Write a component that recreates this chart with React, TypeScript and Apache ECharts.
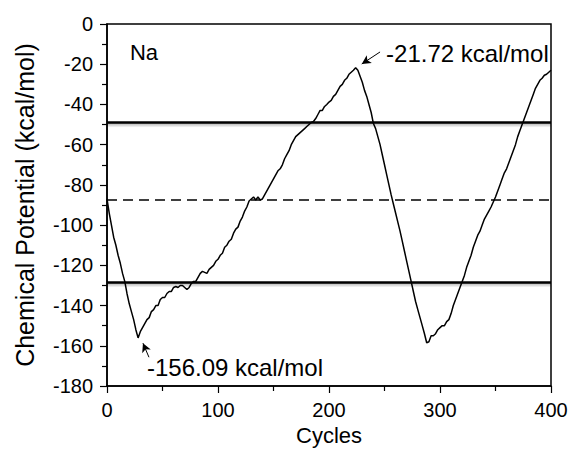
import React, { useEffect, useRef } from "react";
import * as echarts from "echarts";

const cycles = [
  0, 2, 4, 6, 8, 10, 12, 14, 16, 18, 20, 22, 24, 26, 28, 30, 32, 34, 36, 38, 40, 42, 44, 46, 48, 50,
  52, 54, 56, 58, 60, 62, 64, 66, 68, 70, 72, 74, 76, 78, 80, 82, 84, 86, 88, 90, 92, 94, 96, 98, 100,
  102, 104, 106, 108, 110, 112, 114, 116, 118, 120, 122, 124, 126, 128, 130, 132, 134, 136, 138, 140,
  142, 144, 146, 148, 150, 152, 154, 156, 158, 160, 162, 164, 166, 168, 170, 172, 174, 176, 178, 180,
  182, 184, 186, 188, 190, 192, 194, 196, 198, 200, 202, 204, 206, 208, 210, 212, 214, 216, 218, 220,
  222, 224, 226, 228, 230, 232, 234, 236, 238, 240, 242, 244, 246, 248, 250, 252, 254, 256, 258, 260,
  262, 264, 266, 268, 270, 272, 274, 276, 278, 280, 282, 284, 286, 288, 290, 292, 294, 296, 298, 300,
  302, 304, 306, 308, 310, 312, 314, 316, 318, 320, 322, 324, 326, 328, 330, 332, 334, 336, 338, 340,
  342, 344, 346, 348, 350, 352, 354, 356, 358, 360, 362, 364, 366, 368, 370, 372, 374, 376, 378, 380,
  382, 384, 386, 388, 390, 392, 394, 396, 398, 400,
];

const potential = [
  -87, -94, -100, -106, -110, -115, -119, -124, -128, -134, -139, -143, -147, -152, -156.09, -153, -151,
  -149, -147, -146, -143, -142, -140, -140, -137, -136, -136, -134, -133, -133, -131, -130.5, -131, -130,
  -130, -131, -132, -131, -129, -128, -128, -126, -124, -123, -123.5, -124, -122, -121, -120, -118, -117,
  -115, -114, -111, -110, -108, -107, -104, -102, -101, -98, -96, -93, -91, -88, -87, -86, -87.5, -86,
  -87.5, -87, -85, -83, -81, -79, -77, -75, -73, -72, -70, -67, -65, -63, -60, -58, -56, -55, -54, -53,
  -52, -51, -50, -49, -48.5, -47, -45, -43, -43, -41, -40, -38.8, -38, -36, -35, -33, -31, -30, -28, -27,
  -25, -24, -23, -21.72, -23, -26, -29, -33, -36, -40, -44, -49.5, -52, -56, -60, -65, -70, -75, -80, -85,
  -89.5, -94, -98.5, -103, -108, -113, -118, -123, -128, -133, -138, -142, -146, -150, -154, -158.5, -158,
  -155, -155, -154, -152, -151, -150, -150, -148, -147, -144, -140, -137, -134, -131, -128, -125, -121,
  -118, -115, -111, -108, -105, -103, -100, -97, -95, -93, -91, -88.5, -86, -83, -80, -77, -74, -72, -69,
  -66, -63, -60, -56, -53, -50, -47, -44, -41, -38, -35, -32, -30, -28, -27, -25.5, -25, -24, -23,
];

const xTicks = [0, 100, 200, 300, 400];
const yTicks = [-180, -160, -140, -120, -100, -80, -60, -40, -20, 0];

const upperLevel = -49;
const lowerLevel = -128.5;
const midLevel = -87.5;
const shadowDepth = 2.5;

const panelLabel = "Na";
const panelLabelAt = [20.7, -14];
const peakText = "-21.72 kcal/mol";
const peakTextAt = [251.4, -14.9];
const peakArrow = [[246, -13.9], [229.5, -19.9]];
const minText = "-156.09 kcal/mol";
const minTextAt = [36, -170.6];
const minArrow = [[37.8, -165.7], [32.4, -158.7]];

const FONT = "Liberation Sans, Arial, Helvetica, sans-serif";

export default function App() {
  const ref = useRef<HTMLDivElement>(null);

  useEffect(() => {
    if (!ref.current) return;
    const chart = echarts.init(ref.current, null, { renderer: "svg" });
    const data = cycles.map((c, i) => [c, potential[i]]);

    const textPoint = (text: string, at: number[], size: number) => ({
      coord: at,
      symbol: "circle",
      symbolSize: 0,
      label: {
        show: true,
        formatter: text,
        position: "inside",
        align: "left",
        verticalAlign: "middle",
        color: "#000",
        fontSize: size,
        fontFamily: FONT,
      },
    });

    const shadowFill = new echarts.graphic.LinearGradient(0, 0, 0, 1, [
      { offset: 0, color: "rgba(0,0,0,0.35)" },
      { offset: 1, color: "rgba(0,0,0,0)" },
    ]);

    const axisCommon = {
      axisLine: { show: true, onZero: false, lineStyle: { color: "#000", width: 1.5 } },
      axisTick: { show: true, inside: false, length: 7, lineStyle: { color: "#000", width: 1.2 } },
      minorTick: { show: true, splitNumber: 2, length: 5, lineStyle: { color: "#000", width: 1.2 } },
      splitLine: { show: false },
    };

    chart.setOption({
      animation: false,
      backgroundColor: "#fff",
      textStyle: { fontFamily: FONT },
      grid: {
        left: 107,
        right: 17,
        top: 24,
        bottom: 64,
        containLabel: false,
        outerBoundsMode: "none",
        show: true,
        borderColor: "#000",
        borderWidth: 1.5,
        backgroundColor: "transparent",
      },
      xAxis: {
        type: "value",
        min: xTicks[0],
        max: xTicks[xTicks.length - 1],
        interval: 100,
        name: "Cycles",
        nameLocation: "middle",
        nameGap: 38,
        nameTextStyle: { color: "#000", fontSize: 22, fontFamily: FONT },
        ...axisCommon,
        axisLabel: { color: "#000", fontSize: 20, margin: 14, fontFamily: FONT },
      },
      yAxis: {
        type: "value",
        min: yTicks[0],
        max: yTicks[yTicks.length - 1],
        interval: 20,
        name: "Chemical Potential (kcal/mol)",
        nameLocation: "middle",
        nameRotate: 90,
        nameGap: 70,
        nameTextStyle: { color: "#000", fontSize: 25, fontFamily: FONT },
        ...axisCommon,
        axisLabel: { color: "#000", fontSize: 20, margin: 14, fontFamily: FONT },
      },
      series: [
        {
          type: "line",
          data,
          showSymbol: false,
          symbol: "none",
          lineStyle: { color: "#000", width: 1.5 },
          z: 3,
          markArea: {
            silent: true,
            itemStyle: { color: shadowFill },
            data: [
              [{ yAxis: upperLevel }, { yAxis: upperLevel - shadowDepth }],
              [{ yAxis: lowerLevel }, { yAxis: lowerLevel - shadowDepth }],
            ],
          },
          markLine: {
            silent: true,
            symbol: "none",
            label: { show: false },
            data: [
              { yAxis: upperLevel, lineStyle: { color: "#000", width: 2.6, type: "solid" } },
              { yAxis: lowerLevel, lineStyle: { color: "#000", width: 2.6, type: "solid" } },
              { yAxis: midLevel, lineStyle: { color: "#000", width: 1.5, type: [10, 6] } },
            ],
          },
        },
        {
          type: "line",
          data: [],
          markLine: {
            silent: true,
            symbol: ["none", "arrow"],
            symbolSize: [7, 9],
            label: { show: false },
            lineStyle: { color: "#000", width: 1, type: "solid" },
            data: [
              [{ coord: peakArrow[0] }, { coord: peakArrow[1] }],
              [{ coord: minArrow[0] }, { coord: minArrow[1] }],
            ],
          },
          markPoint: {
            silent: true,
            data: [
              textPoint(panelLabel, panelLabelAt, 22),
              textPoint(peakText, peakTextAt, 24),
              textPoint(minText, minTextAt, 24),
            ],
          },
        },
      ],
    });

    return () => chart.dispose();
  }, []);

  return (
    <div
      ref={ref}
      style={{ position: "absolute", left: 0, top: 0, width: 568, height: 450 }}
    />
  );
}
